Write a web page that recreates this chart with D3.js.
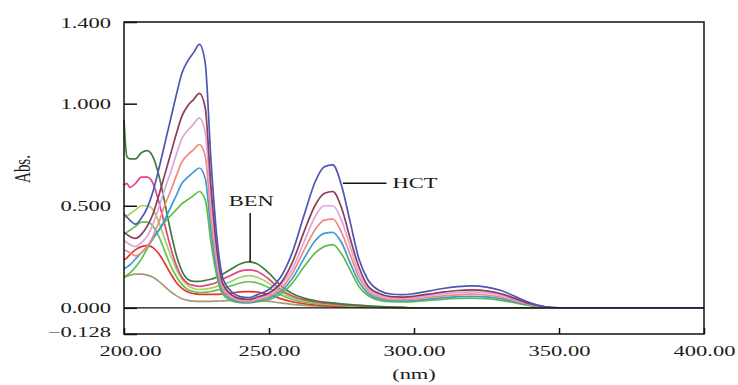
<!DOCTYPE html>
<html><head><meta charset="utf-8">
<script src="https://cdn.jsdelivr.net/npm/d3@7"></script>
<style>body{margin:0;background:#fff}svg{display:block}</style>
</head><body>
<svg id="c" width="738" height="385"></svg>
<script>
// wavelength grid (nm)
const wavelengths = [200,201,202,204,206,208,210,212,214,216,218,220,222,224,226,228,230,232,234,237,240,243,246,250,254,258,262,266,269,272,275,278,281,284,288,292,296,300,305,310,315,320,325,330,335,340,345,350,360,380,400];

// HCT spectra
const hct1 = [0.46,0.445,0.43,0.41,0.44,0.49,0.57,0.68,0.80,0.92,1.04,1.15,1.21,1.25,1.29,1.20,0.72,0.35,0.15,0.08,0.055,0.05,0.065,0.09,0.15,0.27,0.45,0.62,0.69,0.70,0.60,0.42,0.24,0.14,0.085,0.068,0.065,0.07,0.082,0.095,0.104,0.108,0.102,0.085,0.055,0.025,0.006,0,0,0,0];
const hct2 = [0.37,0.36,0.35,0.34,0.36,0.40,0.46,0.55,0.65,0.75,0.85,0.94,0.99,1.02,1.05,0.98,0.59,0.29,0.12,0.065,0.045,0.041,0.053,0.073,0.12,0.22,0.37,0.505,0.56,0.57,0.49,0.34,0.20,0.11,0.07,0.055,0.053,0.057,0.067,0.077,0.085,0.088,0.083,0.069,0.045,0.02,0.005,0,0,0,0];
const hct3 = [0.33,0.32,0.31,0.30,0.32,0.35,0.41,0.49,0.58,0.66,0.75,0.83,0.87,0.90,0.93,0.86,0.52,0.25,0.11,0.058,0.04,0.036,0.047,0.065,0.11,0.19,0.32,0.45,0.50,0.50,0.43,0.30,0.17,0.10,0.061,0.049,0.047,0.05,0.059,0.068,0.075,0.078,0.073,0.061,0.04,0.018,0.004,0,0,0,0];
const hct4 = [0.285,0.278,0.27,0.255,0.27,0.30,0.35,0.42,0.50,0.57,0.645,0.715,0.75,0.775,0.80,0.745,0.445,0.22,0.093,0.05,0.034,0.031,0.04,0.056,0.093,0.167,0.28,0.385,0.43,0.435,0.37,0.26,0.15,0.087,0.053,0.042,0.04,0.043,0.051,0.059,0.064,0.067,0.063,0.053,0.034,0.016,0.004,0,0,0,0];
const hct5 = [0.19,0.20,0.21,0.24,0.27,0.30,0.34,0.38,0.43,0.49,0.55,0.61,0.64,0.665,0.685,0.635,0.38,0.185,0.08,0.042,0.029,0.027,0.034,0.048,0.08,0.143,0.24,0.33,0.365,0.37,0.32,0.22,0.127,0.074,0.045,0.036,0.034,0.037,0.043,0.05,0.055,0.057,0.054,0.045,0.029,0.013,0.003,0,0,0,0];
const hct6 = [0.15,0.16,0.17,0.20,0.24,0.29,0.34,0.38,0.42,0.45,0.48,0.51,0.53,0.55,0.57,0.53,0.32,0.155,0.066,0.035,0.026,0.024,0.03,0.04,0.066,0.12,0.20,0.27,0.30,0.31,0.265,0.185,0.105,0.062,0.037,0.03,0.029,0.031,0.036,0.042,0.046,0.048,0.045,0.037,0.024,0.011,0.003,0,0,0,0];

// BEN spectra
const ben1 = [0.92,0.74,0.73,0.73,0.76,0.77,0.74,0.65,0.52,0.38,0.26,0.18,0.14,0.13,0.13,0.135,0.14,0.15,0.165,0.19,0.215,0.225,0.215,0.17,0.11,0.07,0.048,0.035,0.028,0.024,0.02,0.016,0.013,0.01,0.007,0.004,0.002,0,0,0,0,0,0,0,0,0,0,0,0,0,0];
const ben2 = [0.60,0.61,0.59,0.61,0.64,0.64,0.61,0.52,0.41,0.30,0.21,0.15,0.12,0.11,0.105,0.11,0.115,0.125,0.14,0.16,0.18,0.186,0.178,0.14,0.09,0.058,0.04,0.029,0.023,0.02,0.016,0.013,0.01,0.008,0.005,0.003,0.001,0,0,0,0,0,0,0,0,0,0,0,0,0,0];
const ben3 = [0.44,0.45,0.46,0.48,0.50,0.50,0.48,0.42,0.34,0.26,0.19,0.14,0.11,0.095,0.09,0.092,0.097,0.105,0.115,0.13,0.15,0.158,0.15,0.12,0.078,0.05,0.035,0.025,0.02,0.017,0.014,0.011,0.009,0.007,0.004,0.002,0.001,0,0,0,0,0,0,0,0,0,0,0,0,0,0];
const ben4 = [0.36,0.37,0.38,0.40,0.42,0.42,0.40,0.35,0.28,0.21,0.155,0.115,0.09,0.08,0.075,0.077,0.08,0.087,0.095,0.108,0.122,0.128,0.122,0.098,0.064,0.041,0.029,0.021,0.017,0.014,0.011,0.009,0.007,0.005,0.003,0.002,0.001,0,0,0,0,0,0,0,0,0,0,0,0,0,0];
const ben5 = [0.235,0.245,0.26,0.285,0.30,0.305,0.295,0.265,0.22,0.17,0.125,0.095,0.078,0.07,0.066,0.066,0.066,0.066,0.068,0.072,0.078,0.08,0.077,0.065,0.045,0.03,0.02,0.014,0.011,0.009,0.007,0.006,0.005,0.004,0.003,0.002,0.001,0,0,0,0,0,0,0,0,0,0,0,0,0,0];
const ben6 = [0.15,0.155,0.16,0.165,0.165,0.16,0.15,0.13,0.105,0.08,0.06,0.045,0.037,0.033,0.032,0.032,0.032,0.033,0.034,0.036,0.038,0.039,0.037,0.032,0.024,0.017,0.012,0.009,0.007,0.006,0.005,0.004,0.003,0.002,0.001,0.001,0,0,0,0,0,0,0,0,0,0,0,0,0,0,0];

const seriesOrder = [
  {name:"ben6", values:ben6, color:"#a59a78"},
  {name:"ben5", values:ben5, color:"#e5322d"},
  {name:"ben4", values:ben4, color:"#62c24e"},
  {name:"ben3", values:ben3, color:"#a5d25a"},
  {name:"ben2", values:ben2, color:"#e8408a"},
  {name:"ben1", values:ben1, color:"#3d7d3d"},
  {name:"hct6", values:hct6, color:"#5cbf45"},
  {name:"hct5", values:hct5, color:"#3d9bd6"},
  {name:"hct4", values:hct4, color:"#f28a80"},
  {name:"hct3", values:hct3, color:"#d9a6d9"},
  {name:"hct2", values:hct2, color:"#8e3a5a"},
  {name:"hct1", values:hct1, color:"#4d55b5"}
];

const xTicks = [200,250,300,350,400];
const xTickLabels = ["200.00","250.00","300.00","350.00","400.00"];
const yTicks = [1.4,1.0,0.5,0,-0.128];
const yTickLabels = ["1.400","1.000","0.500","0.000","\u22120.128"];

const svg = d3.select("#c");
const x = d3.scaleLinear().domain([200,400]).range([124,704]);
const y = d3.scaleLinear().domain([-0.128,1.4]).range([334,22]);
const FONT = "'Liberation Serif','Times New Roman',serif";
const SX = 1.5;

// curves
const line = d3.line().x(d=>x(d[0])).y(d=>y(d[1])).curve(d3.curveMonotoneX);
const g = svg.append("g");
seriesOrder.forEach(s=>{
  g.append("path")
    .datum(wavelengths.map((w,i)=>[w,s.values[i]]))
    .attr("d", line)
    .attr("fill","none")
    .attr("stroke", s.color)
    .attr("stroke-width",1.7)
    .attr("stroke-linejoin","round");
});

// frame + zero line
svg.append("rect").attr("x",x(200)).attr("y",y(1.4)).attr("width",x(400)-x(200)).attr("height",y(-0.128)-y(1.4))
  .attr("fill","none").attr("stroke","#111").attr("stroke-width",1.5);
svg.append("line").attr("x1",x(200)).attr("x2",x(400)).attr("y1",y(0)).attr("y2",y(0))
  .attr("stroke","#111").attr("stroke-width",1.3);

// left axis
const ya = svg.append("g").attr("transform",`translate(${x(200)},0)`)
  .call(d3.axisLeft(y).tickValues(yTicks).tickSize(-13).tickFormat((d,i)=>yTickLabels[i]));
ya.select(".domain").remove();
ya.selectAll(".tick line").attr("stroke","#111").attr("stroke-width",1.5);
ya.selectAll(".tick text")
  .attr("x",-13/SX).attr("dy",null)
  .attr("y",(d,i)=> i===yTicks.length-1 ? 2 : 5)
  .attr("transform",`scale(${SX},1)`)
  .style("font-family",FONT).style("font-size","15px").attr("fill","#1a1a1a");

// bottom axis
const xa = svg.append("g").attr("transform",`translate(0,${y(-0.128)})`)
  .call(d3.axisBottom(x).tickValues(xTicks).tickSize(-6).tickFormat((d,i)=>xTickLabels[i]));
xa.select(".domain").remove();
xa.selectAll(".tick line").attr("stroke","#111").attr("stroke-width",1.5);
xa.selectAll(".tick text")
  .attr("y",22).attr("dy",null)
  .attr("x",(d,i)=> i===0 ? 6/SX : 0)
  .attr("transform",`scale(${SX},1)`)
  .style("font-family",FONT).style("font-size","15px").attr("fill","#1a1a1a");

// axis titles
svg.append("text").attr("transform",`translate(${x(300)},379) scale(${SX},1)`)
  .attr("text-anchor","middle").style("font-family",FONT).style("font-size","15px").attr("fill","#1a1a1a").text("(nm)");
svg.append("text").attr("transform",`translate(30,169) rotate(-90) scale(1,${SX})`)
  .attr("text-anchor","middle").style("font-family",FONT).style("font-size","15px").attr("fill","#1a1a1a").text("Abs.");

// annotations
const hctNote = {nm0:275.5, nm1:290.5, abs:0.61, label:"HCT"};
const benNote = {nm:243.5, abs0:0.225, abs1:0.465, label:"BEN"};
svg.append("line").attr("x1",x(hctNote.nm0)).attr("x2",x(hctNote.nm1)).attr("y1",y(hctNote.abs)).attr("y2",y(hctNote.abs))
  .attr("stroke","#111").attr("stroke-width",1.5);
svg.append("text").attr("transform",`translate(${x(hctNote.nm1)+6},${y(hctNote.abs)+5}) scale(${SX},1)`)
  .style("font-family",FONT).style("font-size","15px").attr("fill","#1a1a1a").text(hctNote.label);
svg.append("line").attr("x1",x(benNote.nm)).attr("x2",x(benNote.nm)).attr("y1",y(benNote.abs0)).attr("y2",y(benNote.abs1))
  .attr("stroke","#111").attr("stroke-width",1.5);
svg.append("text").attr("transform",`translate(${x(benNote.nm)+1},${y(benNote.abs1)-7}) scale(${SX},1)`)
  .attr("text-anchor","middle").style("font-family",FONT).style("font-size","15px").attr("fill","#1a1a1a").text(benNote.label);
</script>
</body></html>
